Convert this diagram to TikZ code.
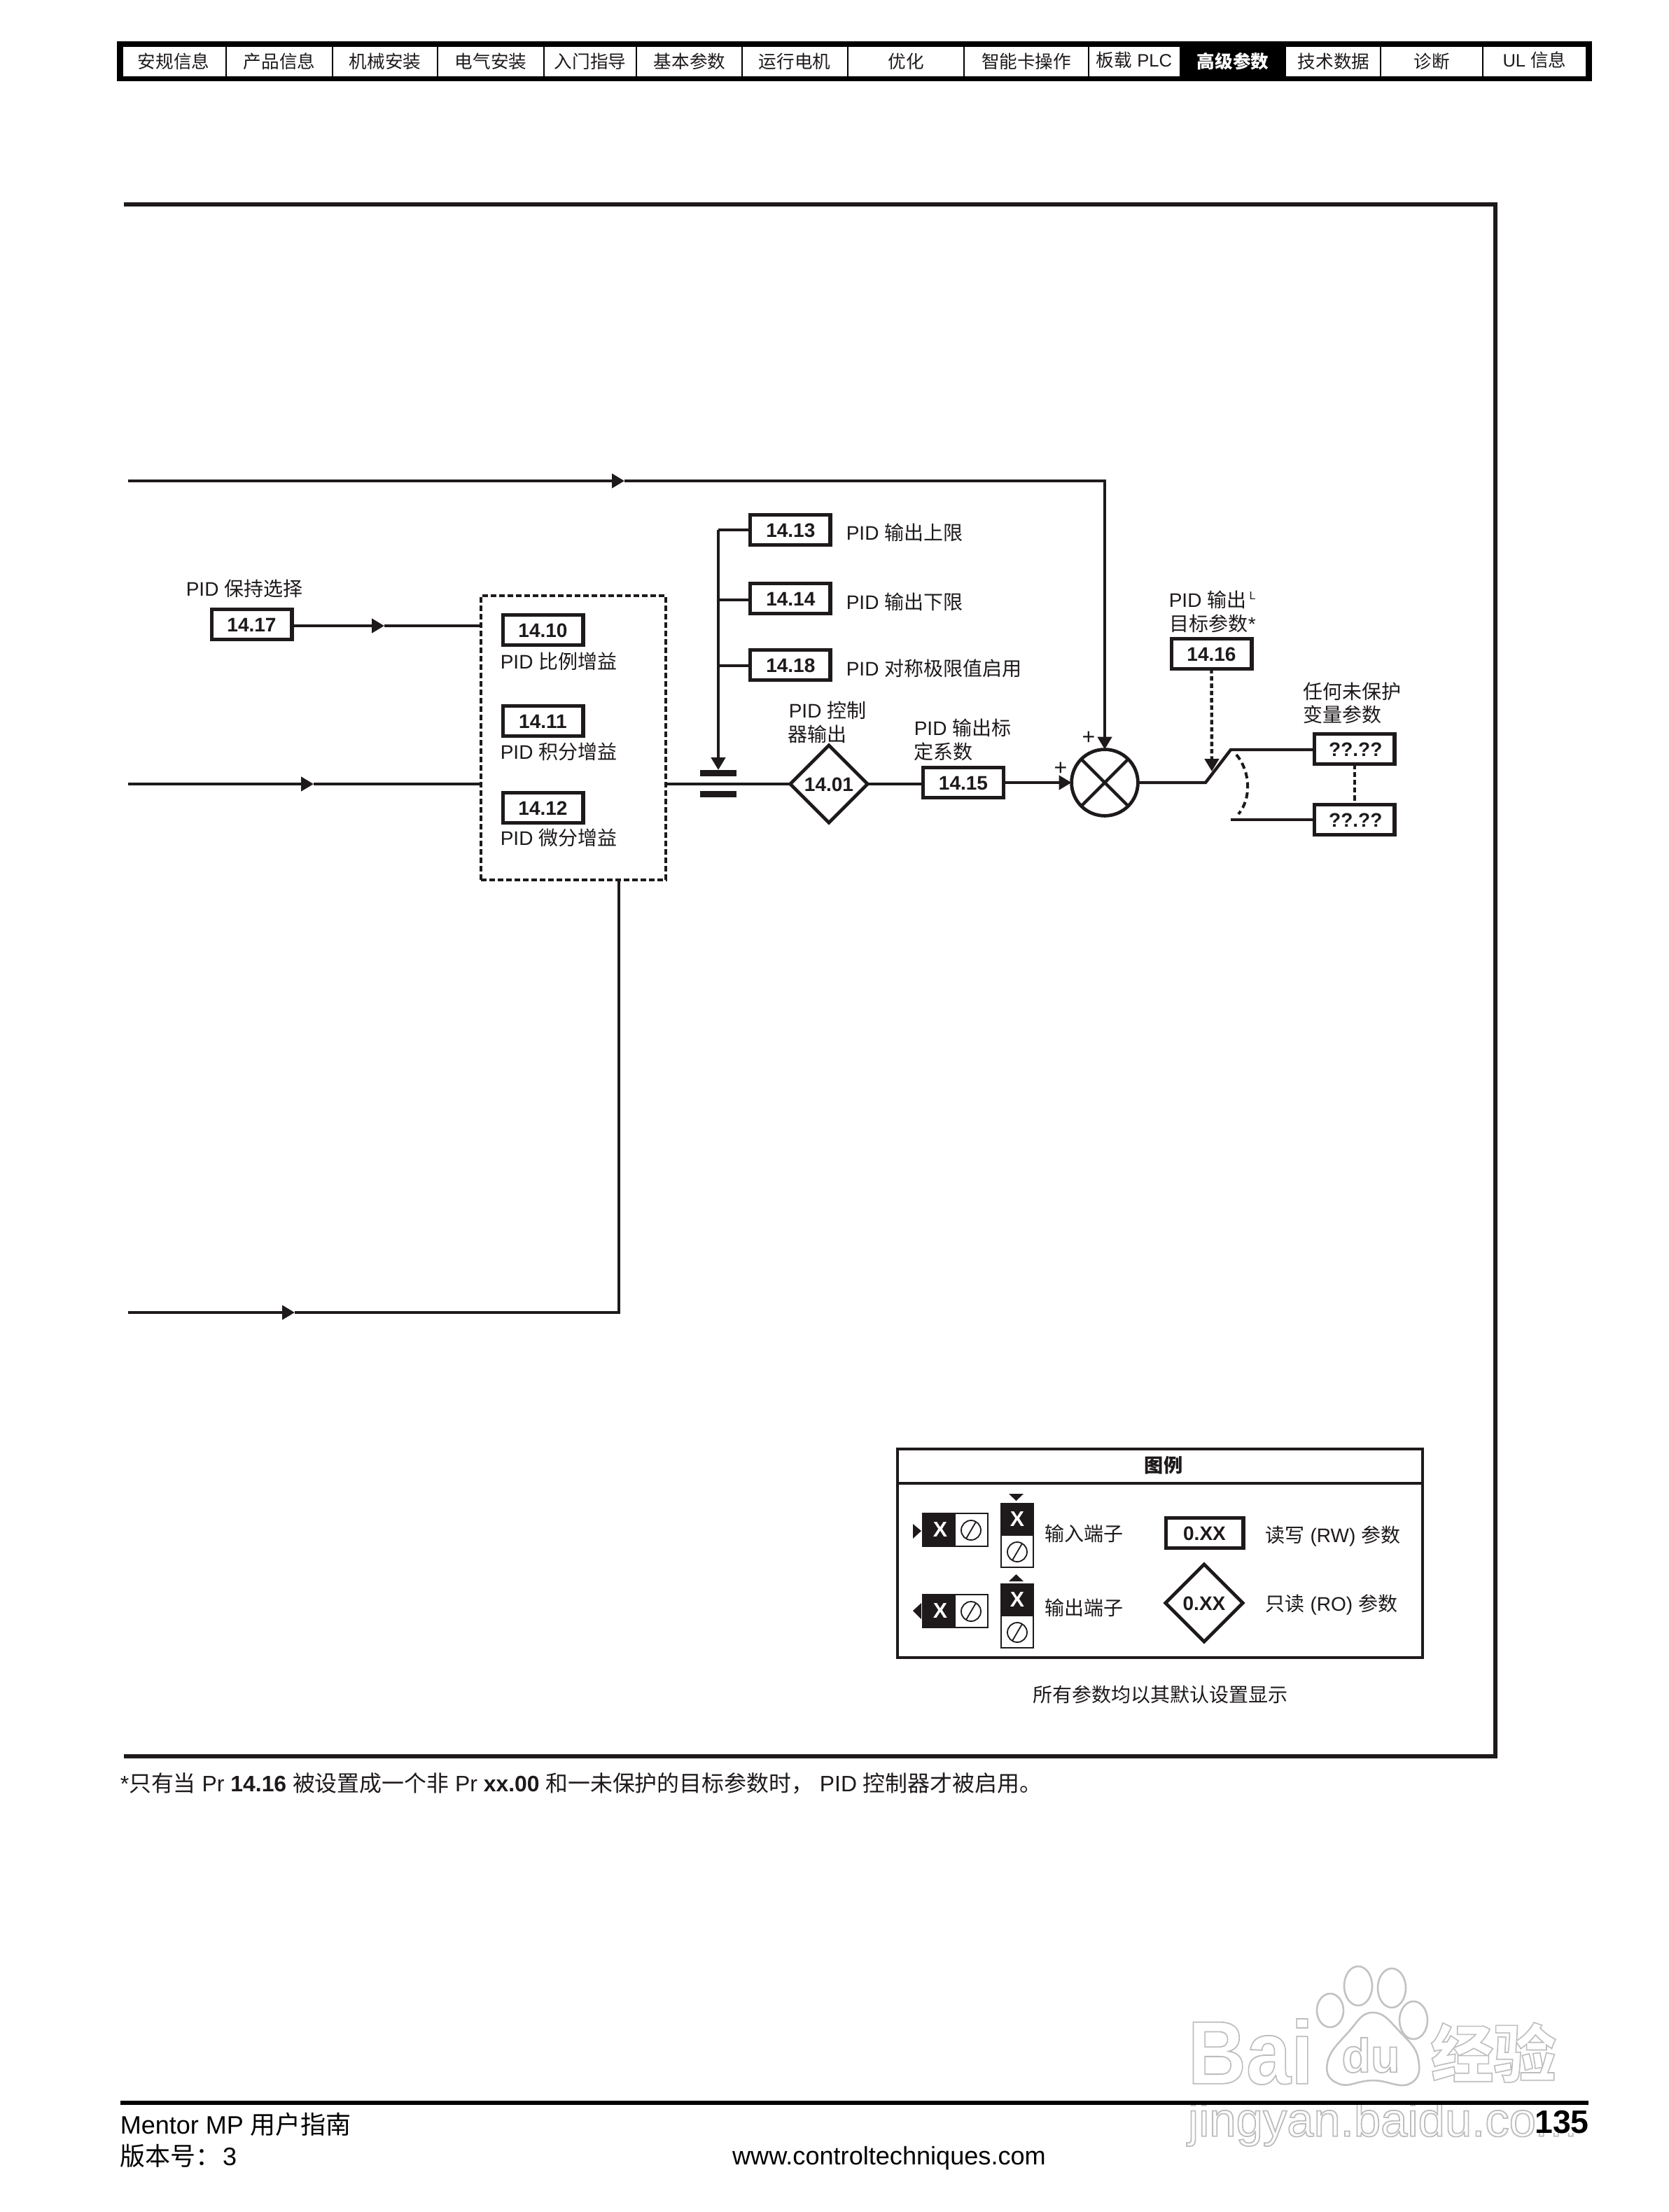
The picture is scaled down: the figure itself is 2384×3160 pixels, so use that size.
\documentclass[tikz,border=0pt]{standalone}
\usepackage{fontspec}
\setmainfont{Liberation Sans}
\newfontfamily\cjkf{Noto Sans CJK SC}
\usetikzlibrary{arrows.meta,shapes.geometric}
\newcommand{\C}[1]{{\cjkf #1}}
\newcommand{\fsz}[1]{\fontsize{#1}{#1}\selectfont}
\newcommand{\outl}[2]{\special{pdf:code q 1 Tr #1 w 0.74 G}#2\special{pdf:code 0 Tr Q}}
\definecolor{ink}{HTML}{1E1A1B}
\tikzset{
  x=0.25pt,y=-0.25pt,
  ln/.style={draw=ink,line width=1.1pt},
  arr/.style={ln,-{Triangle[length=4.5pt,width=5pt]}},
  pbox/.style={draw=ink,line width=1.3pt,fill=white,minimum width=28.7pt,minimum height=10.8pt,inner sep=0pt,outer sep=0pt,text height=5pt,text depth=0pt,text=ink,font=\fsz{7}\bfseries},
  pdia/.style={shape=diamond,draw=ink,line width=1.2pt,fill=white,minimum width=27.6pt,minimum height=27.6pt,inner sep=0pt,outer sep=0pt,text height=5pt,text depth=0pt,text=ink,font=\fsz{7}\bfseries},
  lab/.style={anchor=west,inner sep=0pt,text=ink,text height=6.1pt,text depth=0.9pt,font=\fsz{7}},
  tabt/.style={inner sep=0pt,text=ink,text height=5.6pt,text depth=0.8pt,font=\fsz{6.4}},
  thinl/.style={draw=ink,line width=.45pt},
  xmark/.style={inner sep=0pt,text=white,font=\fsz{7.6}\bfseries,text height=5.4pt,text depth=0pt},
  wm/.style={inner sep=0pt},
  wmline/.style={draw=black!24,line width=.65pt},
}
\newcommand{\screwmark}[2]{%
  \draw[thinl] (#1,#2) circle[radius=14];
  \draw[thinl] (#1-7,#2+12) -- (#1+7,#2-12);}
\newcommand{\hterm}[3]{%
  \begin{scope}[shift={(#1,#2)}]
    \draw[thinl,fill=white] (0,0) rectangle (93,47);
    \fill[ink] (0,0) rectangle (47,47);
    \node[xmark] (#3) at (25,23) {X};
    \screwmark{69}{24}
  \end{scope}}
\newcommand{\vterm}[3]{%
  \begin{scope}[shift={(#1,#2)}]
    \draw[thinl,fill=white] (0,0) rectangle (46,91);
    \fill[ink] (0,0) rectangle (46,46);
    \node[xmark] (#3) at (23,22) {X};
    \screwmark{23}{69}
  \end{scope}}
\begin{document}
\begin{tikzpicture}
\useasboundingbox (0,0) rectangle (2384,3160);
\fill[white] (0,0) rectangle (2384,3160);

% --- watermark ---
\begin{scope}
  \node[wm,anchor=west] (wmbai) at (1696,2931) {\fsz{32}\bfseries\scalebox{.9}[1]{\outl{.45}{Bai}}};
  \node[wm] (wmdu) at (1958,2936) {\fsz{17}\bfseries\outl{.45}{du}};
  \node[wm,anchor=west] (wmjy) at (2043,2932) {\cjkf\fsz{22.4}\bfseries\outl{.4}{经验}};
  \node[wm,anchor=west] (wmurl) at (1696,3034) {\fsz{17.2}\outl{.45}{jingyan.baidu.com}};
  \draw[wmline] plot[smooth cycle,tension=.8] coordinates {(1961,2875) (2000,2903) (2026,2942) (2013,2977) (1961,2972) (1913,2977) (1896,2947) (1926,2903)};
  \draw[wmline] (1900,2872) ellipse[x radius=19,y radius=24];
  \draw[wmline] (1940,2837) ellipse[x radius=20,y radius=28];
  \draw[wmline] (1988,2840) ellipse[x radius=20,y radius=28];
  \draw[wmline] (2019,2886) ellipse[x radius=20,y radius=27];
\end{scope}

% --- header tabs ---
\fill[black] (167,59) rectangle (2274,116);
\fill[white] (176,67) rectangle (2265,109);
\fill[black] (1685,59) rectangle (1837,116);
\foreach \sx in {323,475,625,777,909,1060,1211,1377,1555,1972,2118}
  \draw[black,line width=.4pt] (\sx,67) -- (\sx,109);
\node[tabt] (t1) at (248,88) {\C{安规信息}};
\node[tabt] (t2) at (399,88) {\C{产品信息}};
\node[tabt] (t3) at (550,88) {\C{机械安装}};
\node[tabt] (t4) at (701,88) {\C{电气安装}};
\node[tabt] (t5) at (843,88) {\C{入门指导}};
\node[tabt] (t6) at (985,88) {\C{基本参数}};
\node[tabt] (t7) at (1135,88) {\C{运行电机}};
\node[tabt] (t8) at (1294,88) {\C{优化}};
\node[tabt] (t9) at (1466,88) {\C{智能卡操作}};
\node[tabt] (t10) at (1620,86) {\C{板载} PLC};
\node[tabt,text=white] (t11) at (1761,88) {\cjkf\bfseries 高级参数};
\node[tabt] (t12) at (1905,88) {\C{技术数据}};
\node[tabt] (t13) at (2045,88) {\C{诊断}};
\node[tabt] (t14) at (2192,86) {UL \C{信息}};

% --- main frame ---
\draw[draw=ink,line width=1.5pt] (177,292) -- (2136,292) -- (2136,2508.5) -- (177,2508.5);

% --- free ends and waypoints ---
\coordinate (inA) at (183,687);
\coordinate (arA) at (892,687);
\coordinate (cnA) at (1578,687);
\coordinate (inB) at (183,1120);
\coordinate (arB) at (448,1120);
\coordinate (inC) at (183,1875);
\coordinate (arC) at (421,1875);
\coordinate (cnC) at (884,1875);
\coordinate (arD) at (549,894);
\coordinate (rail) at (1026,757);
\coordinate (railb) at (1026,857);
\coordinate (railc) at (1026,951);
\coordinate (railtip) at (1026,1100);
\coordinate (sw0) at (1722,1118);
\coordinate (sw1) at (1758,1071);
\coordinate (swl) at (1758,1171);
\coordinate (swtip) at (1731,1102);

% --- dashed PID block ---
\node[draw=ink,line width=.9pt,dash pattern=on 2pt off 1pt,minimum width=66pt,minimum height=101.5pt,inner sep=0pt,outer sep=0pt] (block) at (819,1054) {};

% --- parameter boxes ---
\node[pbox] (p17) at (359.5,892) {14.17};
\node[pbox] (p10) at (775.5,900) {14.10};
\node[pbox] (p11) at (775.5,1030) {14.11};
\node[pbox] (p12) at (775.5,1154) {14.12};
\node[pbox] (p13) at (1128.5,757) {\hspace*{.4pt}14.13};
\node[pbox] (p14) at (1128.5,855) {\hspace*{.4pt}14.14};
\node[pbox] (p18) at (1128.5,950) {\hspace*{.4pt}14.18};
\node[pbox] (p15) at (1376,1118) {14.15};
\node[pbox] (p16) at (1730.5,934) {14.16};
\node[pbox] (q1) at (1934.5,1070) {\hspace*{.9pt}??.??};
\node[pbox] (q2) at (1934.5,1171) {\hspace*{.9pt}??.??};
\node[pdia] (p01) at (1184,1120) {14.01};
\node[draw=ink,line width=1.2pt,shape=circle,minimum size=23.7pt,inner sep=0pt,outer sep=0pt,fill=white] (sum) at (1578,1118) {};
\draw[ln] (sum.45) -- (sum.225);
\draw[ln] (sum.135) -- (sum.-45);

% --- text labels ---
\node[lab] (l17) at (265,841) {PID \C{保持选择}};
\node[lab] (l10) at (714,945) {PID \C{比例增益}};
\node[lab] (l11) at (714,1074) {PID \C{积分增益}};
\node[lab] (l12) at (714,1197) {PID \C{微分增益}};
\node[lab] (l13) at (1208,761) {PID \C{输出上限}};
\node[lab] (l14) at (1208,860) {PID \C{输出下限}};
\node[lab] (l18) at (1208,955) {PID \C{对称极限值启用}};
\node[lab] (l01a) at (1126,1015) {PID \C{控制}};
\node[lab] (l01b) at (1125,1049) {\C{器输出}};
\node[lab] (l15a) at (1305,1040) {PID \C{输出标}};
\node[lab] (l15b) at (1305,1074) {\C{定系数}};
\node[lab] (l16a) at (1669,857) {PID \C{输出}};
\node[inner sep=0pt,text=ink,font=\fsz{4}] (l16l) at (1789,851) {L};
\node[lab] (l16b) at (1670,891) {\C{目标参数}*};
\node[lab] (lq1) at (1861,988) {\C{任何未保护}};
\node[lab] (lq2) at (1861,1021) {\C{变量参数}};
\node[inner sep=0pt,text=ink,font=\fsz{8}] (plus1) at (1555,1054) {+};
\node[inner sep=0pt,text=ink,font=\fsz{8}] (plus2) at (1515,1098) {+};

% --- connectors ---
\draw[arr] (inA) -- (arA);
\draw[arr] (arA) -- (cnA) -- (sum.north);
\draw[arr] (inB) -- (arB);
\draw[ln] (arB) -- (block.west |- arB);
\draw[arr] (inC) -- (arC);
\draw[ln] (arC) -- (cnC) -- (cnC |- block.south);
\draw[arr] (p17.east |- arD) -- (arD);
\draw[ln] (arD) -- (block.west |- arD);
\draw[ln] (block.east |- p01) -- (p01.west);
\draw[ln] (p01.east) -- (p01 -| p15.west);
\draw[arr] (p15.east) -- (sum.west);
\draw[ln] (p13.west) -- (rail);
\draw[arr] (rail) -- (railtip);
\draw[ln] (railb) -- (railb -| p14.west);
\draw[ln] (railc) -- (railc -| p18.west);
\fill[ink] (1000,1100) rectangle (1052,1108.5);
\fill[ink] (1000,1130) rectangle (1052,1138.5);
\draw[ln] (sum.east) -- (sw0) -- (sw1) -- (sw1 -| q1.west);
\draw[ln] (swl) -- (q2.west);
\draw[arr,dash pattern=on 1.6pt off 1pt] (p16.south) -- (swtip);
\draw[draw=ink,line width=1pt,dash pattern=on 1.8pt off 1pt] (q1.south) -- (q2.north);
\draw[draw=ink,line width=1pt,dash pattern=on 2.2pt off 1.4pt] (1766,1078) .. controls (1786,1102) and (1788,1140) .. (1769,1163);

% --- legend ---
\node[draw=ink,line width=1.2pt,minimum width=187.5pt,minimum height=74.5pt,inner sep=0pt,outer sep=0pt] (legend) at (1657,2219) {};
\coordinate (ldl) at (1282,2119);
\draw[draw=ink,line width=1.2pt] (ldl) -- (ldl -| legend.east);
\node[inner sep=0pt,text=ink,font=\fsz{6.8}] (ltitle) at (1662,2093) {\cjkf\bfseries 图例};
\hterm{1318}{2162}{xa}
\vterm{1430}{2148}{xb}
\hterm{1318}{2278}{xc}
\vterm{1430}{2263}{xd}
\fill[ink] (1304,2177) -- (1316,2187) -- (1304,2198) -- cycle;
\fill[ink] (1441,2134) -- (1462,2134) -- (1451.5,2144) -- cycle;
\fill[ink] (1316,2290) -- (1304,2301) -- (1316,2313) -- cycle;
\fill[ink] (1441,2259) -- (1462,2259) -- (1451.5,2249) -- cycle;
\node[lab] (lin) at (1492,2191) {\C{输入端子}};
\node[lab] (lout) at (1492,2297) {\C{输出端子}};
\node[pbox,line width=1.4pt,minimum width=27.6pt] (lrw) at (1720.5,2190) {0.XX};
\node[pdia] (lro) at (1720,2290) {0.XX};
\node[lab] (lrwt) at (1807,2193) {\C{读写} (RW) \C{参数}};
\node[lab] (lrot) at (1807,2291) {\C{只读} (RO) \C{参数}};
\node[inner sep=0pt,text=ink,text height=6.1pt,text depth=.9pt,font=\fsz{7}] (lall) at (1657,2421) {\C{所有参数均以其默认设置显示}};

% --- footnote ---
\node[anchor=west,inner sep=0pt,text=ink,text height=6.8pt,text depth=1pt,font=\fsz{7.97}] (fn) at (171,2548) {*\C{只有当} Pr \textbf{14.16} \C{被设置成一个非} Pr \textbf{xx.00} \C{和一未保护的目标参数时，} PID \C{控制器才被启用。}};

% --- footer ---
\node[fill=white,inner sep=0pt,text=black,font=\fsz{11.6}\bfseries,text height=8.6pt,text depth=0pt] (pg) at (2231,3030) {135};
\draw[black,line width=1.5pt] (172,3004) -- (2269,3004);
\node[anchor=west,inner sep=0pt,text=black,text height=7.8pt,text depth=1.2pt,font=\fsz{9}] (fa) at (171,3035) {Mentor MP \C{用户指南}};
\node[anchor=west,inner sep=0pt,text=black,text height=7.8pt,text depth=1.2pt,font=\fsz{9}] (fb) at (171,3080) {\C{版本号：}\hspace{.6pt}3};
\node[inner sep=0pt,text=black,text height=7.2pt,text depth=1.6pt,font=\fsz{9.03}] (fc) at (1270,3081) {www.controltechniques.com};
\end{tikzpicture}
\end{document}
